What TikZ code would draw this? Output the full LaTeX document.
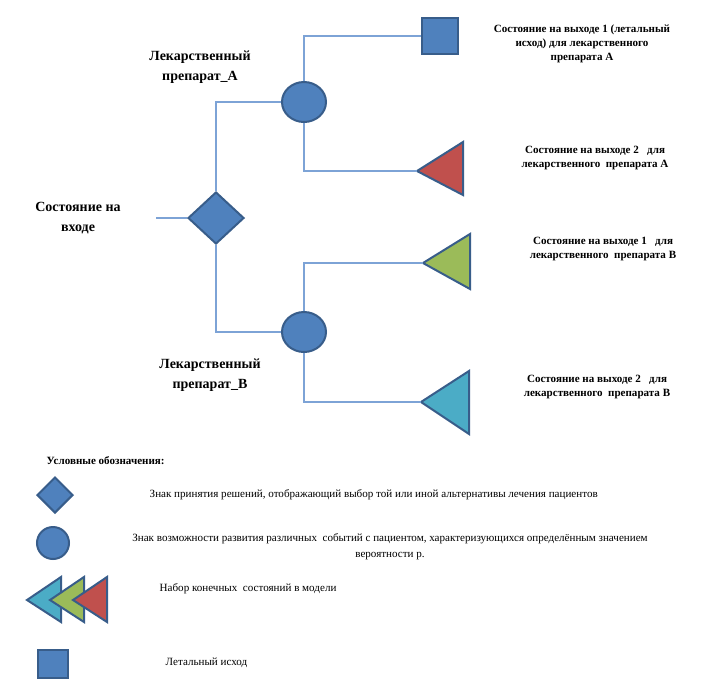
\documentclass[tikz,border=0pt]{standalone}
\usepackage{fontspec}
\setmainfont{Liberation Serif}
\usetikzlibrary{shapes.geometric}
\definecolor{fblue}{RGB}{79,129,189}
\definecolor{bblue}{RGB}{56,93,138}
\definecolor{fred}{RGB}{192,80,77}
\definecolor{fgreen}{RGB}{155,187,89}
\definecolor{fteal}{RGB}{75,172,198}
\definecolor{lineblue}{RGB}{125,163,214}
\tikzset{
  shp/.style={draw=bblue,line width=1.5pt,fill=fblue,inner sep=0pt},
  dia/.style={shp,diamond,minimum width=42pt,minimum height=39pt},
  chance/.style={shp,ellipse,minimum width=33pt,minimum height=30pt},
  sqr/.style={shp,rectangle,minimum width=27.5pt,minimum height=27pt},
  tri/.style={draw=bblue,line width=1.5pt,line join=miter},
  conn/.style={draw=lineblue,line width=0.9pt},
  bigl/.style={font=\fontsize{10.5}{15}\selectfont\bfseries,align=center},
  outl/.style={font=\fontsize{8.3}{10.5}\selectfont\bfseries,align=center},
  legh/.style={font=\fontsize{8.3}{10}\selectfont\bfseries,anchor=west},
  legt/.style={font=\fontsize{8.3}{12}\selectfont,align=center},
}
\begin{document}
\begin{tikzpicture}[x=0.75pt,y=-0.75pt]
\useasboundingbox[fill=white] (0,0) rectangle (703,679);
% main tree nodes
\node[dia] (dec) at (216,218) {};
\node[chance] (cA) at (304,102) {};
\node[chance] (cB) at (304,332) {};
\node[sqr] (sq) at (440,36) {};
\coordinate (in) at (156,218);
% triangles
\fill[fred] (417,171) -- (463,142) -- (463,195) -- cycle;
\draw[tri] (417,171) -- (463,142) -- (463,195) -- cycle;
\coordinate (tA) at (417,171);
\fill[fgreen] (423,263) -- (470,234) -- (470,289) -- cycle;
\draw[tri] (423,263) -- (470,234) -- (470,289) -- cycle;
\coordinate (tB1) at (423,263);
\fill[fteal] (421,402) -- (469,371) -- (469,434) -- cycle;
\draw[tri] (421,402) -- (469,371) -- (469,434) -- cycle;
\coordinate (tB2) at (421,402);
% connectors
\draw[conn] (in) -- (dec.west);
\draw[conn] (dec.north) |- (cA.west);
\draw[conn] (dec.south) |- (cB.west);
\draw[conn] (cA.north) |- (sq.west);
\draw[conn] (cA.south) |- (tA);
\draw[conn] (cB.north) |- (tB1);
\draw[conn] (cB.south) |- (tB2);
% labels
\node[bigl] (lA) at (200,67) {Лекарственный\\препарат\_А};
\node[bigl] (lin) at (78,218) {Состояние на\\входе};
\node[bigl] (lB) at (210,375) {Лекарственный\\препарат\_В};
\node[outl] (o1) at (582,44) {Состояние на выходе 1 (летальный\\исход) для лекарственного\\препарата А};
\node[outl] (o2) at (595,158) {Состояние на выходе 2 \ \ для\\лекарственного \ препарата А};
\node[outl] (o3) at (603,249) {Состояние на выходе 1 \ \ для\\лекарственного \ препарата В};
\node[outl] (o4) at (597,387) {Состояние на выходе 2 \ \ для\\лекарственного \ препарата В};
% legend
\node[legh] (lh) at (42,461) {Условные обозначения:};
\node[dia,minimum width=27pt,minimum height=27pt] (ld) at (55,495) {};
\node[legt,anchor=west] (lt1) at (145,495) {Знак принятия решений, отображающий выбор той или иной альтернативы лечения пациентов};
\node[chance,minimum width=24pt,minimum height=24pt] (lc) at (53,543) {};
\node[legt] (lt2) at (390,547) {Знак возможности развития различных \ событий с пациентом, характеризующихся определённым значением\\вероятности р.};
\fill[fteal] (27,600) -- (61,577) -- (61,622) -- cycle;
\draw[tri] (27,600) -- (61,577) -- (61,622) -- cycle;
\fill[fgreen] (50,600) -- (84,577) -- (84,622) -- cycle;
\draw[tri] (50,600) -- (84,577) -- (84,622) -- cycle;
\fill[fred] (73,600) -- (107,577) -- (107,622) -- cycle;
\draw[tri] (73,600) -- (107,577) -- (107,622) -- cycle;
\node[legt,anchor=west] (lt3) at (155,589) {Набор конечных \ состояний в модели};
\node[sqr,minimum width=22.5pt,minimum height=21pt] (ls) at (53,664) {};
\node[legt,anchor=west] (lt4) at (161,663) {Летальный исход};
\end{tikzpicture}
\end{document}
